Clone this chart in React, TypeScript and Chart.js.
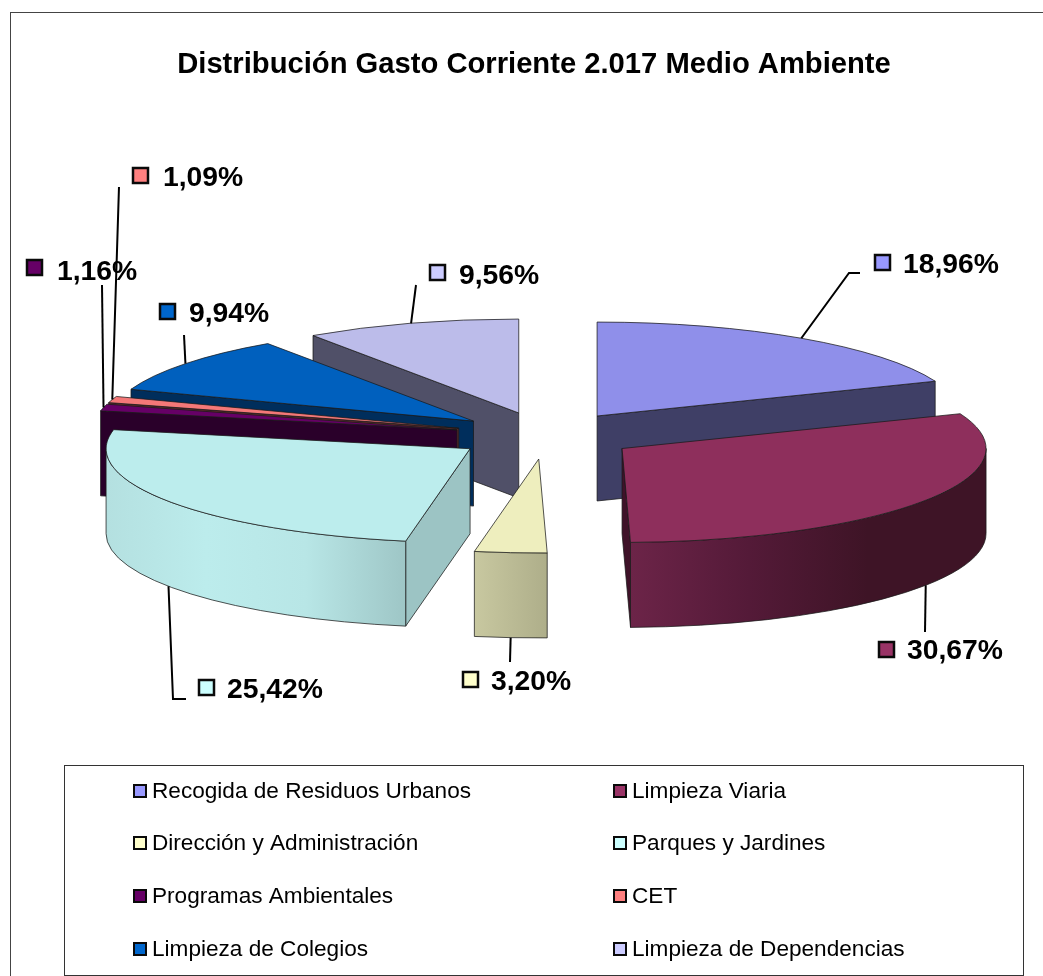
import React, { useEffect, useRef } from "react";
import { Chart, registerables } from "chart.js";

Chart.register(...registerables);

const TITLE = "Distribución Gasto Corriente 2.017 Medio Ambiente";
const categories = [
  "Recogida de Residuos Urbanos",
  "Limpieza Viaria",
  "Dirección y Administración",
  "Parques y Jardines",
  "Programas Ambientales",
  "CET",
  "Limpieza de Colegios",
  "Limpieza de Dependencias",
];
const shares = [18.96, 30.67, 3.2, 25.42, 1.16, 1.09, 9.94, 9.56];
const legendColors = ["#9999FF", "#993366", "#FFFFCC", "#CCFFFF", "#660066", "#FF8080", "#0066CC", "#CCCCFF"];
const topColors = ["#8F8FEA", "#8E2F5C", "#EEEEBE", "#BCEDED", "#660066", "#F47878", "#0060BE", "#BCBCEA"];
const cutColors = ["#3F3F66", "#3F1229", "#B8B890", "#9CC4C4", "#2A002A", "#5C2A2A", "#002E5C", "#505068"];
const wallStops = [
  ["#3F3F66", "#3F3F66"],
  ["#6C2448", "#541A38", "#3E1426", "#3E1426"],
  ["#C8C8A0", "#AEAE8A"],
  ["#B4E0E0", "#BCECEC", "#B8E6E6", "#9EC6C6"],
  ["#2A002A", "#2A002A"],
  ["#5C2A2A", "#5C2A2A"],
  ["#002E5C", "#002E5C"],
  ["#505068", "#505068"],
];

// Layout of the projected pie
const PIE = { cx: 545.8, cy: 435.5, radius: 364, squash: 0.258, depth: 85, explode: 91.4 };

// Label layout: bend points of the leader after its anchor on the slice, marker box, text origin.
const labelLayout = [
  { path: [[849, 273], [860, 273]], marker: [875, 255], text: [903, 265] },
  { path: [[925, 632]], marker: [879, 642], text: [907, 651] },
  { path: [[510, 662]], marker: [463, 672], text: [491, 682] },
  { path: [[173, 699], [186, 699]], marker: [199, 680], text: [227, 690] },
  { path: [[102, 285]], marker: [27, 260], text: [57, 272] },
  { path: [[119, 187]], marker: [133, 168], text: [163, 178] },
  { path: [[184, 335]], marker: [160, 304], text: [189, 314] },
  { path: [[416, 285]], marker: [430, 265], text: [459, 276] },
];

const legendBox = { l: 64, t: 765, r: 1023, b: 975 };
const legendCols = [134, 614];
const legendRows = [791, 843, 896, 949];

const FONT = '"Liberation Sans", Arial, sans-serif';

function geom(arc: any) {
  const p = arc.getProps(["startAngle", "endAngle", "outerRadius"], true);
  const a0 = p.startAngle;
  const a1 = p.endAngle;
  const mid = (a0 + a1) / 2;
  const R = p.outerRadius;
  const ax = PIE.cx + Math.cos(mid) * PIE.explode;
  const ay = PIE.cy + Math.sin(mid) * PIE.explode * PIE.squash;
  const Ry = R * PIE.squash;
  return { a0, a1, mid, ax, ay, R, Ry };
}

const pie3d = {
  id: "pie3d",
  beforeDraw(chart: any) {
    const c = chart.ctx;
    c.save();
    c.fillStyle = "#fff";
    c.fillRect(0, 0, chart.width, chart.height);
    c.lineWidth = 1;
    c.strokeStyle = "#444";
    c.strokeRect(10.5, 12.5, 1200, 1200);
    c.restore();
  },
  beforeDatasetDraw() {
    return false;
  },
  afterDatasetsDraw(chart: any) {
    const c = chart.ctx;
    const arcs: any[] = chart.getDatasetMeta(0).data;
    const order = arcs
      .map((arc, i) => ({ arc, i, g: geom(arc) }))
      .sort((a, b) => Math.sin(a.g.mid) - Math.sin(b.g.mid));
    const edge = "rgba(25,25,25,0.75)";

    for (const { arc, i, g } of order) {
      const { a0, a1, ax, ay, R, Ry } = g;
      const d = PIE.depth;
      const pt = (a: number) => [ax + R * Math.cos(a), ay + Ry * Math.sin(a)];
      c.save();
      c.lineWidth = 1;
      c.strokeStyle = edge;
      const cutFace = (a: number) => {
        const [x, y] = pt(a);
        c.beginPath();
        c.moveTo(ax, ay);
        c.lineTo(x, y);
        c.lineTo(x, y + d);
        c.lineTo(ax, ay + d);
        c.closePath();
        c.fillStyle = cutColors[i];
        c.fill();
        c.stroke();
      };
      if (Math.cos(a0) < 0) cutFace(a0);
      if (Math.cos(a1) > 0) cutFace(a1);
      const s = Math.max(a0, 0);
      const e = Math.min(a1, Math.PI);
      if (e > s) {
        const xs = ax + R * Math.cos(e);
        const xe = ax + R * Math.cos(s);
        const grad = c.createLinearGradient(Math.min(xs, xe), 0, Math.max(xs, xe), 0);
        const stops = wallStops[i];
        stops.forEach((col: string, k: number) => grad.addColorStop(k / (stops.length - 1), col));
        c.beginPath();
        c.ellipse(ax, ay, R, Ry, 0, s, e, false);
        c.ellipse(ax, ay + d, R, Ry, 0, e, s, true);
        c.closePath();
        c.fillStyle = grad;
        c.fill();
        c.stroke();
      }
      // Top face: the library's own arc, drawn through the projection.
      c.save();
      c.translate(ax, ay);
      c.scale(1, PIE.squash);
      c.translate(-arc.x, -arc.y);
      arc.draw(c);
      c.restore();
      c.beginPath();
      c.moveTo(ax, ay);
      c.ellipse(ax, ay, R, Ry, 0, a0, a1, false);
      c.closePath();
      c.stroke();
      c.restore();
    }

    // Labels and leaders
    arcs.forEach((arc, i) => {
      const g = geom(arc);
      const lay = labelLayout[i];
      const front = Math.sin(g.mid) > 0;
      const sx = g.ax + g.R * Math.cos(g.mid);
      const sy = g.ay + g.Ry * Math.sin(g.mid) + (front ? PIE.depth : 0);
      c.save();
      c.strokeStyle = "#000";
      c.lineWidth = 2;
      c.beginPath();
      c.moveTo(sx, sy);
      lay.path.forEach((p: number[]) => c.lineTo(p[0], p[1]));
      c.stroke();
      c.lineWidth = 2.5;
      c.strokeStyle = "#0a0a0a";
      c.fillStyle = legendColors[i];
      c.fillRect(lay.marker[0], lay.marker[1], 15, 15);
      c.strokeRect(lay.marker[0], lay.marker[1], 15, 15);
      c.fillStyle = "#000";
      c.font = `bold 28.3px ${FONT}`;
      c.textBaseline = "middle";
      c.textAlign = "left";
      c.fillText(shares[i].toFixed(2).replace(".", ",") + "%", lay.text[0], lay.text[1]);
      c.restore();
    });

    // Legend
    c.save();
    c.strokeStyle = "#333";
    c.lineWidth = 1;
    c.fillStyle = "#fff";
    c.fillRect(legendBox.l, legendBox.t, legendBox.r - legendBox.l, legendBox.b - legendBox.t);
    c.strokeRect(legendBox.l + 0.5, legendBox.t + 0.5, legendBox.r - legendBox.l, legendBox.b - legendBox.t);
    categories.forEach((name, i) => {
      const x = legendCols[i % 2];
      const y = legendRows[Math.floor(i / 2)];
      c.fillStyle = legendColors[i];
      c.fillRect(x, y - 6, 12, 12);
      c.lineWidth = 2;
      c.strokeStyle = "#0a0a0a";
      c.strokeRect(x, y - 6, 12, 12);
      c.fillStyle = "#000";
      c.font = `22.6px ${FONT}`;
      c.textBaseline = "middle";
      c.textAlign = "left";
      c.fillText(name, x + 18, y + 1);
    });
    c.restore();
  },
};

export default function App() {
  const ref = useRef<HTMLCanvasElement | null>(null);
  useEffect(() => {
    const chart = new Chart(ref.current as HTMLCanvasElement, {
      type: "pie",
      data: {
        labels: categories,
        datasets: [
          {
            data: shares,
            backgroundColor: topColors,
            borderWidth: 0,
            radius: PIE.radius,
          } as any,
        ],
      },
      options: {
        responsive: false,
        animation: false,
        devicePixelRatio: 1,
        radius: PIE.radius,
        layout: { padding: { left: 25 } },
        events: [],
        plugins: {
          legend: { display: false },
          tooltip: { enabled: false },
          title: {
            display: true,
            text: TITLE,
            color: "#000",
            font: { family: FONT, size: 29.2, weight: "bold" },
            padding: { top: 47, bottom: 10 },
          },
        },
      } as any,
      plugins: [pie3d as any],
    });
    return () => chart.destroy();
  }, []);
  return (
    <div style={{ position: "fixed", left: 0, top: 0, width: 1043, height: 976, overflow: "hidden", background: "#fff" }}>
      <canvas ref={ref} width={1043} height={976} style={{ display: "block", filter: "blur(0.45px)" }} />
    </div>
  );
}
